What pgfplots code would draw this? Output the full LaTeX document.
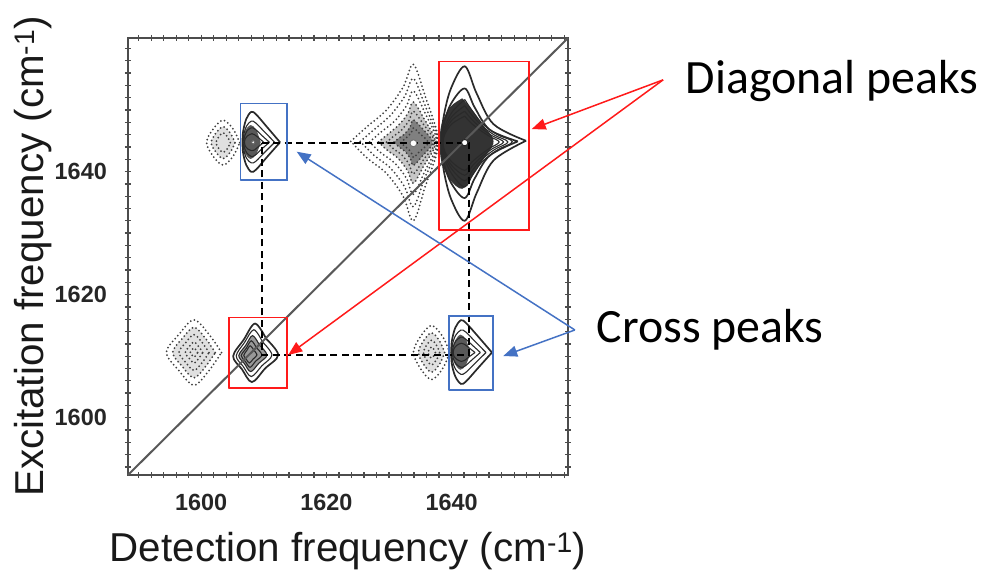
\documentclass[border=0pt]{standalone}
\usepackage{fontspec}
\setmainfont{Liberation Sans}
\newfontfamily\carlito{Carlito}
\usepackage{pgfplots}
\pgfplotsset{compat=1.18}
\usetikzlibrary{arrows.meta}
\definecolor{pbox}{HTML}{FF1A1A}
\definecolor{bbox}{HTML}{4472C4}
\definecolor{cline}{HTML}{2A2A2A}
\definecolor{nline}{HTML}{3F3F3F}
\pgfplotsset{
 pos/.style={cline, line width=1.1bp, smooth, tension=0.55},
 posout/.style={cline, line width=1.7bp, smooth, tension=0.55},
 neg/.style={nline, line width=2bp, smooth, tension=0.55, line cap=round, dash pattern=on 0bp off 3.9bp},
 dk/.style={draw=none, smooth, tension=0.55},
}
\begin{document}
\begin{tikzpicture}
\useasboundingbox (-128bp,-96bp) rectangle (864bp,475bp);
\begin{axis}[
 at={(0,0)}, anchor=south west,
 width=440bp, height=437bp, scale only axis,
 xmin=1588.3, xmax=1658.6, ymin=1590.7, ymax=1661.7,
 clip=false,
 xtick={1600,1620,1640}, ytick={1600,1620,1640},
 minor xtick={1590,1592,...,1658}, minor ytick={1592,1594,...,1660},
 tick align=center, major tick length=6bp, minor tick length=6bp,
 every tick/.style={black!70, line width=1.3bp},
 axis line style={black!70, line width=2.4bp},
 /pgf/number format/assume math mode=true,
 /pgf/number format/1000 sep={},
 ticklabel style={font=\fontsize{23.5}{25}\selectfont\bfseries, text=black!85},
 xticklabel style={anchor=base, yshift=-32.5bp},
 yticklabel style={anchor=east, inner sep=0pt, xshift=-18bp},
 xlabel={Detection frequency (cm\textsuperscript{-1})},
 ylabel={Excitation frequency (cm\textsuperscript{-1})},
 label style={font=\fontsize{40.5}{48}\selectfont, text=black!90},
 xlabel style={at={(axis description cs:0.5,-0.199)}, anchor=base},
 ylabel style={at={(axis description cs:-0.193,0.5)}, anchor=base},
]
% ---------- shaded cores ----------
\addplot[dk, fill=black!22] coordinates {(1628.3,1644.8) (1629.8,1646.05) (1631.5,1647.5) (1633.0,1649.4) (1633.9,1651.3) (1635.6,1648.6) (1637.2,1645.7) (1637.3,1644.7) (1637.2,1643.7) (1635.6,1641.0) (1633.9,1638.1) (1633.0,1640.1) (1631.5,1642.1) (1629.8,1643.4) (1628.3,1644.8)};
\addplot[dk, fill=black!50] coordinates {(1630.8,1644.8) (1631.6,1645.45) (1632.6,1646.2) (1633.4,1647.3) (1633.9,1648.4) (1635.4,1646.9) (1636.8,1645.3) (1636.9,1644.7) (1636.8,1644.15) (1635.4,1642.6) (1633.9,1641.0) (1633.4,1642.15) (1632.6,1643.25) (1631.6,1644.0) (1630.8,1644.8)};
\addplot[dk, fill=black!80] coordinates {(1641.7,1651.9) (1639.8,1650.5) (1638.4,1647.7) (1638.1,1644.7) (1638.4,1641.5) (1639.8,1638.6) (1641.7,1637.2) (1643.3,1639.2) (1644.9,1641.7) (1646.4,1643.9) (1646.7,1644.9) (1646.4,1645.8) (1644.9,1647.7) (1643.3,1650.0) (1641.7,1651.9)};
\addplot[dk, fill=black!65] coordinates {(1609.5,1644.75) (1608.8,1646.75) (1607.9,1647.55) (1607.0,1646.55) (1606.75,1644.75) (1607.0,1642.95) (1607.9,1642.05) (1608.8,1642.85) (1609.5,1644.75)};
\addplot[dk, fill=black!65] coordinates {(1643.0,1610.6) (1642.3,1612.7) (1641.4,1613.5) (1640.5,1612.4) (1640.05,1610.6) (1640.5,1608.8) (1641.4,1607.8) (1642.3,1608.6) (1643.0,1610.6)};
\addplot[dk, fill=black!40] coordinates {(1609.3,1611.8) (1608.2,1613.35) (1607.1,1611.75) (1606.0,1610.1) (1606.9,1608.8) (1607.9,1607.5) (1609.2,1608.85) (1610.5,1610.2) (1609.3,1611.8)};
\addplot[dk, fill=black!12] coordinates {(1602.24,1610.6) (1600.71,1612.86) (1598.84,1614.7) (1596.97,1612.86) (1595.44,1610.6) (1596.97,1608.34) (1598.84,1606.5) (1600.71,1608.34) (1602.24,1610.6)};
\addplot[dk, fill=black!12] coordinates {(1638.9,1610.6) (1638.06,1612.52) (1636.8,1613.8) (1635.54,1612.52) (1634.7,1610.6) (1635.54,1608.68) (1636.8,1607.4) (1638.06,1608.68) (1638.9,1610.6)};
\addplot[dk, fill=black!12] coordinates {(1605.4,1644.7) (1604.64,1646.26) (1603.5,1647.3) (1602.36,1646.26) (1601.6,1644.7) (1602.36,1643.14) (1603.5,1642.1) (1604.64,1643.14) (1605.4,1644.7)};
% ---------- peak B (negative, dotted) ----------
\addplot[neg] coordinates {(1623.9,1644.9) (1626.5,1647.3) (1629.6,1650.0) (1632.3,1653.8) (1633.9,1657.4) (1635.8,1652.2) (1637.6,1646.7) (1637.7,1644.7) (1637.6,1642.8) (1635.8,1637.6) (1633.9,1632.0) (1632.3,1635.9) (1629.6,1639.7) (1626.5,1642.2) (1623.9,1644.9)};
\addplot[neg] coordinates {(1625.4,1644.9) (1627.6,1646.8) (1630.2,1649.1) (1632.5,1652.2) (1633.9,1655.1) (1635.7,1650.9) (1637.5,1646.3) (1637.6,1644.7) (1637.5,1643.1) (1635.7,1638.9) (1633.9,1634.3) (1632.5,1637.5) (1630.2,1640.6) (1627.6,1642.65) (1625.4,1644.9)};
\addplot[neg] coordinates {(1626.9,1644.8) (1628.7,1646.4) (1630.9,1648.2) (1632.8,1650.7) (1633.9,1653.1) (1635.7,1649.65) (1637.4,1646.0) (1637.5,1644.7) (1637.4,1643.45) (1635.7,1640.0) (1633.9,1636.3) (1632.8,1638.9) (1630.9,1641.4) (1628.7,1643.05) (1626.9,1644.8)};
\addplot[neg] coordinates {(1628.3,1644.8) (1629.8,1646.05) (1631.5,1647.5) (1633.0,1649.4) (1633.9,1651.3) (1635.6,1648.6) (1637.2,1645.7) (1637.3,1644.7) (1637.2,1643.7) (1635.6,1641.0) (1633.9,1638.1) (1633.0,1640.1) (1631.5,1642.1) (1629.8,1643.4) (1628.3,1644.8)};
\addplot[neg] coordinates {(1629.6,1644.8) (1630.7,1645.7) (1632.05,1646.8) (1633.2,1648.3) (1633.9,1649.8) (1635.5,1647.7) (1637.05,1645.5) (1637.1,1644.7) (1637.05,1643.9) (1635.5,1641.9) (1633.9,1639.6) (1633.2,1641.2) (1632.05,1642.7) (1630.7,1643.7) (1629.6,1644.8)};
\addplot[neg] coordinates {(1630.8,1644.8) (1631.6,1645.45) (1632.6,1646.2) (1633.4,1647.3) (1633.9,1648.4) (1635.4,1646.9) (1636.8,1645.3) (1636.9,1644.7) (1636.8,1644.15) (1635.4,1642.6) (1633.9,1641.0) (1633.4,1642.15) (1632.6,1643.25) (1631.6,1644.0) (1630.8,1644.8)};
\addplot[neg] coordinates {(1631.9,1644.7) (1632.4,1645.2) (1633.0,1645.7) (1633.6,1646.4) (1633.9,1647.1) (1635.0,1646.1) (1636.1,1645.1) (1636.2,1644.7) (1636.1,1644.3) (1635.0,1643.35) (1633.9,1642.3) (1633.6,1643.0) (1633.0,1643.75) (1632.4,1644.2) (1631.9,1644.7)};
% ---------- small negative peaks (dotted) ----------
\addplot[neg] coordinates {(1606.15,1644.7) (1605.1,1646.9) (1603.5,1648.35) (1601.9,1646.9) (1600.85,1644.7) (1601.9,1642.5) (1603.5,1641.05) (1605.1,1642.5) (1606.15,1644.7)};
\addplot[neg] coordinates {(1605.4,1644.7) (1604.64,1646.26) (1603.5,1647.3) (1602.36,1646.26) (1601.6,1644.7) (1602.36,1643.14) (1603.5,1642.1) (1604.64,1643.14) (1605.4,1644.7)};
\addplot[neg] coordinates {(1604.65,1644.7) (1604.19,1645.66) (1603.5,1646.3) (1602.81,1645.66) (1602.35,1644.7) (1602.81,1643.74) (1603.5,1643.1) (1604.19,1643.74) (1604.65,1644.7)};
\addplot[neg] coordinates {(1603.24,1610.6) (1601.26,1613.52) (1598.84,1615.9) (1596.42,1613.52) (1594.44,1610.6) (1596.42,1607.68) (1598.84,1605.3) (1601.26,1607.68) (1603.24,1610.6)};
\addplot[neg] coordinates {(1602.24,1610.6) (1600.71,1612.86) (1598.84,1614.7) (1596.97,1612.86) (1595.44,1610.6) (1596.97,1608.34) (1598.84,1606.5) (1600.71,1608.34) (1602.24,1610.6)};
\addplot[neg] coordinates {(1601.24,1610.6) (1600.16,1612.2) (1598.84,1613.5) (1597.52,1612.2) (1596.44,1610.6) (1597.52,1609.0) (1598.84,1607.7) (1600.16,1609.0) (1601.24,1610.6)};
\addplot[neg] coordinates {(1600.24,1610.6) (1599.61,1611.54) (1598.84,1612.3) (1598.07,1611.54) (1597.44,1610.6) (1598.07,1609.66) (1598.84,1608.9) (1599.61,1609.66) (1600.24,1610.6)};
\addplot[neg] coordinates {(1599.44,1610.6) (1599.17,1611.01) (1598.84,1611.35) (1598.51,1611.01) (1598.24,1610.6) (1598.51,1610.19) (1598.84,1609.85) (1599.17,1610.19) (1599.44,1610.6)};
\addplot[neg] coordinates {(1639.7,1610.6) (1638.55,1613.24) (1636.8,1615.0) (1635.06,1613.24) (1633.9,1610.6) (1635.06,1607.96) (1636.8,1606.2) (1638.55,1607.96) (1639.7,1610.6)};
\addplot[neg] coordinates {(1638.9,1610.6) (1638.06,1612.52) (1636.8,1613.8) (1635.54,1612.52) (1634.7,1610.6) (1635.54,1608.68) (1636.8,1607.4) (1638.06,1608.68) (1638.9,1610.6)};
\addplot[neg] coordinates {(1638.1,1610.6) (1637.58,1611.8) (1636.8,1612.6) (1636.02,1611.8) (1635.5,1610.6) (1636.02,1609.4) (1636.8,1608.6) (1637.58,1609.4) (1638.1,1610.6)};
\addplot[neg] coordinates {(1637.4,1610.6) (1637.16,1611.14) (1636.8,1611.5) (1636.44,1611.14) (1636.2,1610.6) (1636.44,1610.06) (1636.8,1609.7) (1637.16,1610.06) (1637.4,1610.6)};
% ---------- peak A (positive diagonal, top right) ----------
\addplot[posout] coordinates {(1651.9,1645.0) (1646.7,1647.7) (1644.0,1652.7) (1642.1,1657.1) (1639.9,1653.5) (1638.7,1648.7) (1638.4,1644.7) (1638.7,1640.5) (1639.9,1635.6) (1642.1,1632.0) (1644.0,1636.5) (1646.7,1641.8) (1651.9,1645.0)};
\addplot[posout] coordinates {(1650.6,1644.9) (1646.1,1646.8) (1643.7,1650.4) (1642.1,1653.5) (1639.9,1651.0) (1638.7,1647.5) (1638.4,1644.7) (1638.7,1641.7) (1639.9,1638.2) (1642.1,1635.7) (1643.7,1638.9) (1646.1,1642.6) (1650.6,1644.9)};
\addplot[pos] coordinates {(1642.1,1651.7) (1640.1,1649.7) (1638.8,1647.0) (1638.5,1644.7) (1638.8,1642.3) (1640.1,1639.5) (1642.1,1637.5) (1643.5,1639.7) (1645.1,1641.8) (1647.3,1643.5) (1649.7,1644.85) (1647.3,1646.0) (1645.1,1647.6) (1643.5,1649.6) (1642.1,1651.7)};
\addplot[pos] coordinates {(1642.1,1650.7) (1640.1,1649.0) (1638.85,1646.7) (1638.55,1644.7) (1638.85,1642.65) (1640.1,1640.3) (1642.1,1638.5) (1643.4,1640.3) (1645.0,1642.1) (1646.9,1643.6) (1649.0,1644.8) (1646.9,1645.9) (1645.0,1647.3) (1643.4,1649.0) (1642.1,1650.7)};
\addplot[pos] coordinates {(1642.1,1649.8) (1640.1,1648.4) (1638.9,1646.4) (1638.6,1644.7) (1638.9,1642.95) (1640.1,1640.9) (1642.1,1639.4) (1643.3,1640.9) (1644.8,1642.4) (1646.5,1643.7) (1648.3,1644.8) (1646.5,1645.8) (1644.8,1647.0) (1643.3,1648.4) (1642.1,1649.8)};
\addplot[pos] coordinates {(1642.1,1649.0) (1640.1,1647.8) (1638.95,1646.15) (1638.65,1644.7) (1638.95,1643.2) (1640.1,1641.5) (1642.1,1640.2) (1643.2,1641.5) (1644.6,1642.7) (1646.1,1643.8) (1647.6,1644.8) (1646.1,1645.7) (1644.6,1646.7) (1643.2,1647.8) (1642.1,1649.0)};
% ---------- peak C (positive cross, top left) ----------
\addplot[posout] coordinates {(1612.6,1644.75) (1610.5,1647.25) (1608.8,1649.25) (1608.0,1649.7) (1607.2,1648.55) (1606.7,1646.55) (1606.6,1644.75) (1606.7,1642.95) (1607.2,1641.05) (1608.0,1639.95) (1608.8,1640.35) (1610.5,1642.35) (1612.6,1644.75)};
\addplot[pos] coordinates {(1611.74,1644.75) (1610.06,1646.5) (1608.7,1647.9) (1608.0,1648.2) (1607.25,1647.4) (1606.8,1646.0) (1606.7,1644.75) (1606.8,1643.5) (1607.25,1642.15) (1608.0,1641.4) (1608.7,1641.65) (1610.06,1643.05) (1611.74,1644.75)};
\addplot[pos] coordinates {(1610.9,1644.75) (1609.6,1645.95) (1608.6,1646.9) (1608.0,1647.1) (1607.3,1646.6) (1606.9,1645.6) (1606.8,1644.75) (1606.9,1643.9) (1607.3,1643.0) (1608.0,1642.45) (1608.6,1642.65) (1609.6,1643.6) (1610.9,1644.75)};
\addplot[pos] coordinates {(1610.0,1644.75) (1609.2,1645.45) (1608.5,1646.0) (1608.1,1646.15) (1607.4,1645.8) (1607.0,1645.25) (1606.9,1644.75) (1607.0,1644.25) (1607.4,1643.7) (1608.1,1643.4) (1608.5,1643.5) (1609.2,1644.1) (1610.0,1644.75)};
% ---------- peak E (positive cross, bottom right) ----------
\addplot[posout] coordinates {(1646.45,1610.6) (1644.2,1613.25) (1642.35,1615.35) (1641.5,1615.85) (1640.6,1614.65) (1640.05,1612.5) (1639.95,1610.6) (1640.05,1608.7) (1640.6,1606.7) (1641.5,1605.5) (1642.35,1605.95) (1644.2,1608.05) (1646.45,1610.6)};
\addplot[pos] coordinates {(1645.5,1610.6) (1643.7,1612.45) (1642.25,1613.95) (1641.5,1614.25) (1640.65,1613.4) (1640.15,1611.95) (1640.05,1610.6) (1640.15,1609.25) (1640.65,1607.85) (1641.5,1607.05) (1642.25,1607.35) (1643.7,1608.8) (1645.5,1610.6)};
\addplot[pos] coordinates {(1644.6,1610.6) (1643.25,1611.85) (1642.15,1612.85) (1641.5,1613.1) (1640.7,1612.5) (1640.25,1611.5) (1640.15,1610.6) (1640.25,1609.7) (1640.7,1608.75) (1641.5,1608.2) (1642.15,1608.4) (1643.25,1609.4) (1644.6,1610.6)};
\addplot[pos] coordinates {(1643.75,1610.6) (1642.8,1611.35) (1642.05,1611.95) (1641.55,1612.1) (1640.8,1611.75) (1640.35,1611.15) (1640.25,1610.6) (1640.35,1610.05) (1640.8,1609.5) (1641.55,1609.15) (1642.05,1609.3) (1642.8,1609.9) (1643.75,1610.6)};
% ---------- peak D (positive diagonal, bottom left) ----------
\addplot[posout] coordinates {(1610.4,1612.8) (1608.6,1615.3) (1606.8,1612.7) (1605.1,1610.0) (1606.5,1607.9) (1608.1,1605.8) (1610.2,1608.0) (1612.3,1610.2) (1610.4,1612.8)};
\addplot[pos] coordinates {(1609.8,1612.3) (1608.4,1614.3) (1606.9,1612.2) (1605.6,1610.05) (1606.7,1608.35) (1608.0,1606.7) (1609.7,1608.45) (1611.3,1610.2) (1609.8,1612.3)};
\addplot[pos] coordinates {(1609.3,1611.8) (1608.2,1613.35) (1607.1,1611.75) (1606.0,1610.1) (1606.9,1608.8) (1607.9,1607.5) (1609.2,1608.85) (1610.5,1610.2) (1609.3,1611.8)};
\addplot[pos] coordinates {(1608.8,1611.4) (1608.0,1612.5) (1607.2,1611.3) (1606.4,1610.1) (1607.05,1609.15) (1607.8,1608.2) (1608.7,1609.2) (1609.7,1610.2) (1608.8,1611.4)};
\addplot[pos] coordinates {(1608.4,1611.0) (1607.8,1611.7) (1607.3,1610.95) (1606.8,1610.15) (1607.2,1609.5) (1607.7,1608.9) (1608.3,1609.55) (1608.9,1610.2) (1608.4,1611.0)};
% ---------- centre dots ----------
\addplot[only marks, mark=*, mark size=3.2bp, mark options={fill=white, draw=black!85, line width=1bp}] coordinates {(1642.1,1644.7)};
\addplot[only marks, mark=*, mark size=3.5bp, mark options={fill=white, draw=black!55, line width=1bp}] coordinates {(1633.9,1644.6)};
\addplot[only marks, mark=*, mark size=1.8bp, mark options={fill=white, draw=black!60, line width=0.8bp}] coordinates {(1608.3,1644.75)};
% ---------- guide lines ----------
\addplot[black!65, line width=2bp] coordinates {(1588.3,1590.7) (1658.6,1661.7)};
\addplot[black, line width=1.8bp, dash pattern=on 7bp off 4.5bp] coordinates {(1609.66,1644.69) (1642.82,1644.69) (1642.82,1610.2) (1609.66,1610.2) (1609.66,1644.69)};
% ---------- boxes ----------
\addplot[pbox, line width=1.6bp, line cap=round] coordinates {(1638.03,1630.5) (1652.4,1630.5) (1652.4,1657.85) (1638.03,1657.85) (1638.03,1630.5)};
\addplot[pbox, line width=1.6bp, line cap=round] coordinates {(1604.43,1604.79) (1613.75,1604.79) (1613.75,1616.32) (1604.43,1616.32) (1604.43,1604.79)};
\addplot[bbox, line width=1.6bp, line cap=round] coordinates {(1606.3,1638.63) (1613.75,1638.63) (1613.75,1651.09) (1606.3,1651.09) (1606.3,1638.63)};
\addplot[bbox, line width=1.6bp, line cap=round] coordinates {(1639.63,1604.51) (1646.65,1604.51) (1646.65,1616.58) (1639.63,1616.58) (1639.63,1604.51)};
% ---------- arrows ----------
\addplot[pbox, line width=1.5bp, -{Triangle[length=14bp,width=11bp]}] coordinates {(1673.8,1654.9) (1652.8,1646.9)};
\addplot[pbox, line width=1.5bp, -{Triangle[length=14bp,width=11bp]}] coordinates {(1673.8,1654.9) (1613.9,1610.2)};
\addplot[bbox, line width=1.5bp, -{Triangle[length=14bp,width=11bp]}] coordinates {(1659.7,1614.26) (1615.25,1643.23)};
\addplot[bbox, line width=1.5bp, -{Triangle[length=14bp,width=11bp]}] coordinates {(1659.7,1614.26) (1648.25,1610.03)};
% ---------- annotations ----------
\node[anchor=base west, inner sep=0pt, font=\carlito\fontsize{48}{56}\selectfont] at (axis cs:1677.4,1652.75) {Diagonal peaks};
\node[anchor=base west, inner sep=0pt, font=\carlito\fontsize{48}{56}\selectfont] at (axis cs:1663.2,1612.15) {Cross peaks};
\end{axis}
\end{tikzpicture}
\end{document}
